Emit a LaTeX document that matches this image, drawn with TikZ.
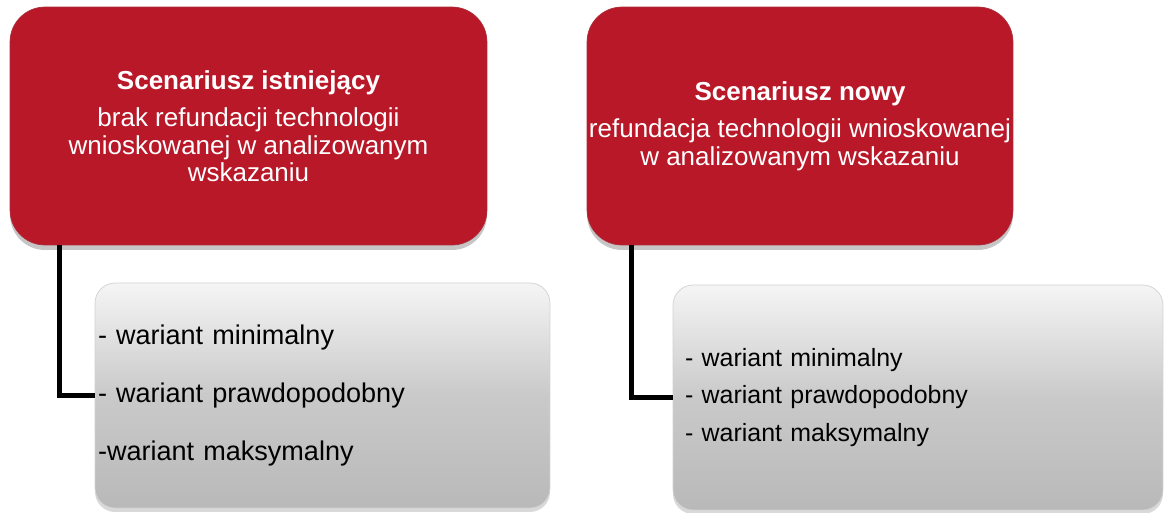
\documentclass[tikz,border=0pt]{standalone}
\usepackage{fontspec}
\setmainfont{Liberation Sans}
\usepackage{tikz}
\usetikzlibrary{shadows}
\definecolor{scenred}{RGB}{184,24,40}
\newcommand{\redsize}{\fontsize{14.8}{15.6}\selectfont}
\newcommand{\scentitle}[1]{\textbf{#1}\\[0.2cm]}

\begin{document}
\begin{tikzpicture}[x=0.02cm,y=-0.02cm,
  scen/.style={rectangle,rounded corners=0.7cm,fill=scenred,text=white,
    draw=scenred!80!gray,align=center,font=\redsize,minimum height=4.76cm,inner sep=0pt,
    drop shadow={opacity=0.45,shadow xshift=0pt,shadow yshift=-0.1cm}},
  vari/.style={rectangle,rounded corners=0.4cm,draw=gray!35,
    top color=gray!8,bottom color=gray!55,middle color=gray!42,
    align=left,minimum height=4.5cm,inner ysep=0pt,
    drop shadow={opacity=0.3,shadow xshift=0pt,shadow yshift=-0.08cm}},
  link/.style={line width=0.1cm}]
  \useasboundingbox (0,0) rectangle (1166,512);
  % scenariusze
  \node[scen,minimum width=9.54cm] (lr) at (248.5,126)
    {\scentitle{Scenariusz istniejący}brak refundacji technologii\\
     wnioskowanej w analizowanym\\wskazaniu};
  \node[scen,minimum width=8.52cm] (rr) at (800,126)
    {\scentitle{Scenariusz nowy}refundacja technologii wnioskowanej\\
     w analizowanym wskazaniu};
  % warianty
  \node[vari,minimum width=9.1cm,inner xsep=0.06cm,text width=8.98cm,
    font=\fontsize{15.4}{33}\selectfont] (lg) at (322.5,395.5)
    {- wariant minimalny\\- wariant prawdopodobny\\-wariant maksymalny};
  \node[vari,minimum width=9.8cm,inner xsep=0.24cm,text width=9.32cm,
    font=\fontsize{14.2}{21.6}\selectfont] (rg) at (918,397.5)
    {- wariant minimalny\\- wariant prawdopodobny\\- wariant maksymalny};
  % polaczenia
  \draw[link] ([xshift=1cm]lr.south west) |- (lg.west);
  \draw[link] ([xshift=0.9cm]rr.south west) |- (rg.west);
\end{tikzpicture}
\end{document}
